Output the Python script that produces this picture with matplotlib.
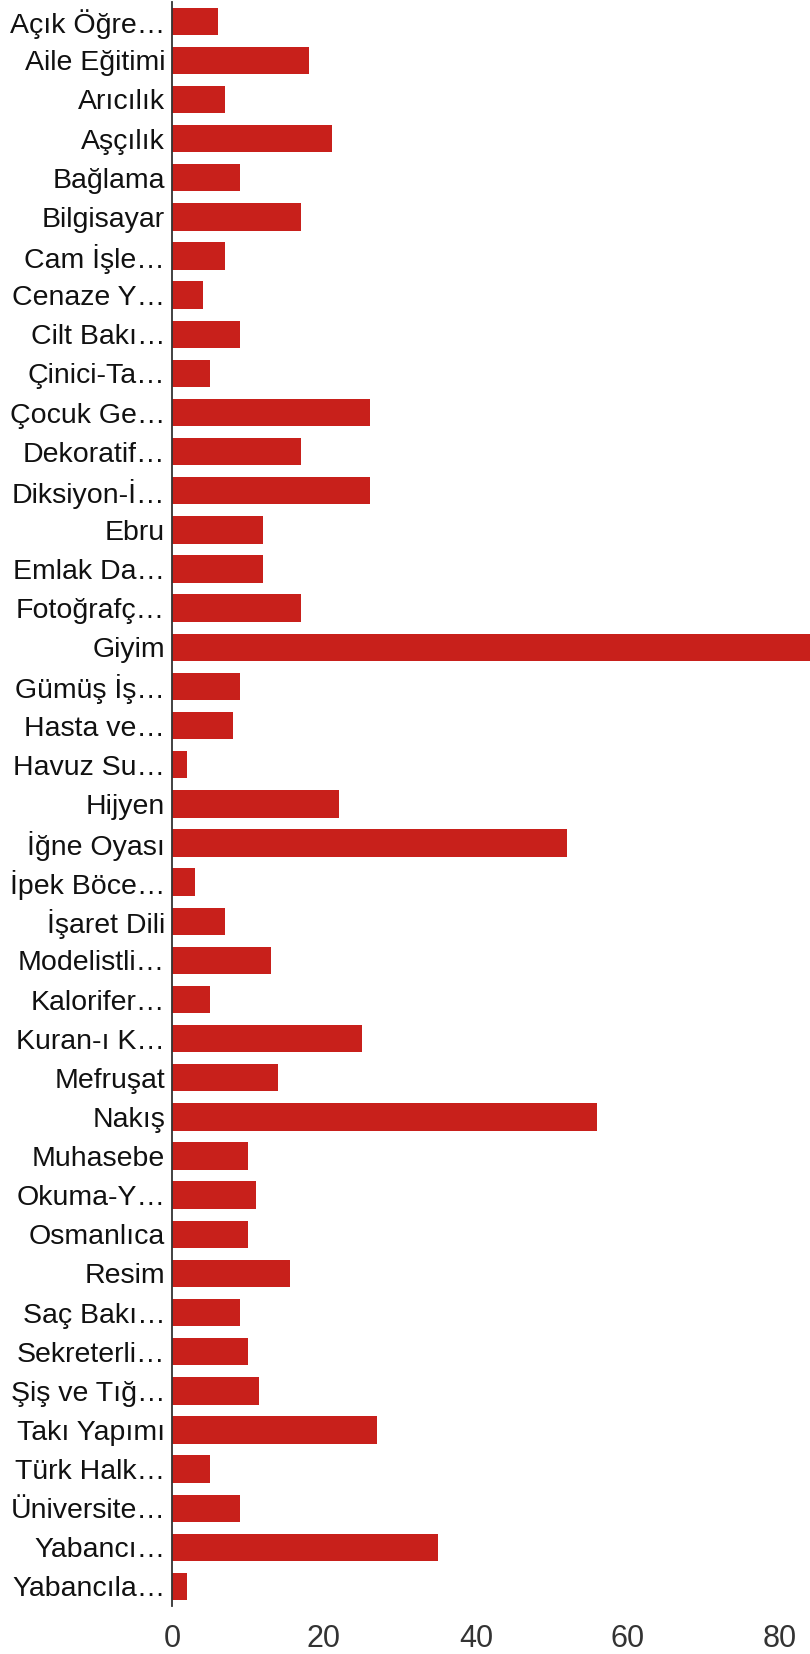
import matplotlib
matplotlib.use("Agg")
import matplotlib.pyplot as plt

categories = ["Açık Öğre…", "Aile Eğitimi", "Arıcılık", "Aşçılık", "Bağlama", "Bilgisayar",
              "Cam İşle…", "Cenaze Y…", "Cilt Bakı…", "Çinici-Ta…", "Çocuk Ge…", "Dekoratif…",
              "Diksiyon-İ…", "Ebru", "Emlak Da…", "Fotoğrafç…", "Giyim", "Gümüş İş…",
              "Hasta ve…", "Havuz Su…", "Hijyen", "İğne Oyası", "İpek Böce…", "İşaret Dili",
              "Modelistli…", "Kalorifer…", "Kuran-ı K…", "Mefruşat", "Nakış", "Muhasebe",
              "Okuma-Y…", "Osmanlıca", "Resim", "Saç Bakı…", "Sekreterli…", "Şiş ve Tığ…",
              "Takı Yapımı", "Türk Halk…", "Üniversite…", "Yabancı…", "Yabancıla…"]
values = [6, 18, 7, 21, 9, 17,
          7, 4, 9, 5, 26, 17,
          26, 12, 12, 17, 88, 9,
          8, 2, 22, 52, 3, 7,
          13, 5, 25, 14, 56, 10,
          11, 10, 15.5, 9, 10, 11.5,
          27, 5, 9, 35, 2]
xticks = [0, 20, 40, 60, 80]

plt.rcParams['font.family'] = ['Liberation Sans', 'DejaVu Sans']

fig = plt.figure(figsize=(8.1, 16.54), dpi=100)
ax = fig.add_axes([0.2125, 0.029, 0.7875, 0.97])

ypos = list(range(len(categories)))
ax.barh(ypos, values, height=0.7, color='#c8201b')
ax.set_ylim(len(categories) - 0.5, -0.5)
ax.set_xlim(0, 84)
ax.set_yticks(ypos)
ax.set_yticklabels(categories, fontsize=20.5, color='#111111')
ax.set_xticks(xticks)
ax.set_xticklabels([str(t) for t in xticks], fontsize=22, color='#333333')
ax.tick_params(axis='y', length=0, pad=5)
ax.tick_params(axis='x', length=0, pad=13)
for s in ['top', 'right', 'bottom']:
    ax.spines[s].set_visible(False)
ax.spines['left'].set_color('#333333')
ax.spines['left'].set_linewidth(1.3)

fig.savefig('out.png', dpi=100)
